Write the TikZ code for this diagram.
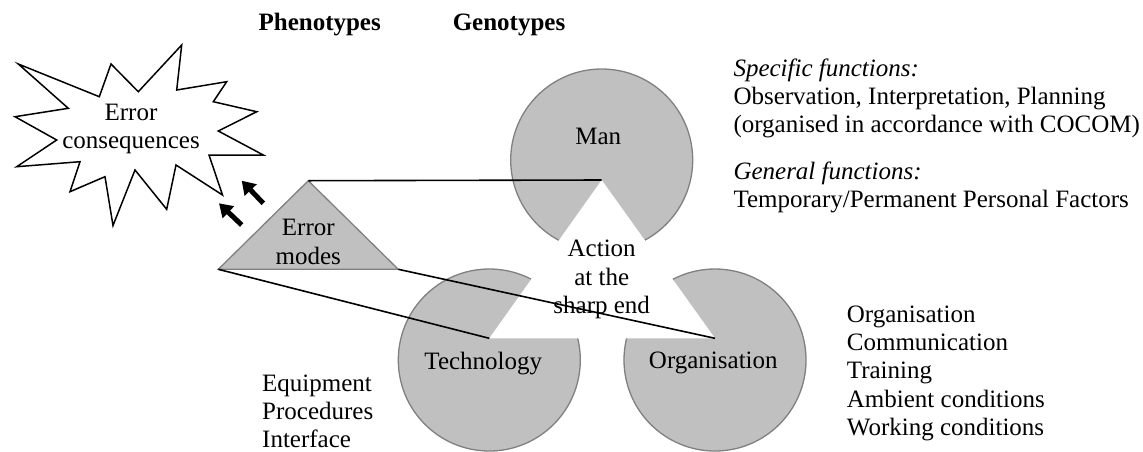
\documentclass[tikz,border=0pt]{standalone}
\usepackage{fontspec}
\setmainfont{Liberation Serif}
\usetikzlibrary{arrows.meta}
\definecolor{pie}{HTML}{C0C0C0}
\definecolor{pieline}{HTML}{808080}
\begin{document}
\begin{tikzpicture}[x=1pt,y=-1pt,
 lbl/.style={font=\fontsize{25}{28.3}\selectfont, inner sep=0pt, align=center},
 side/.style={font=\fontsize{25}{28.3}\selectfont, inner sep=0pt, align=left, anchor=west},
 disc/.style={circle, fill=pie, draw=pieline, line width=1.3pt, minimum size=182pt, inner sep=0pt},
 link/.style={draw=black, line width=1.6pt},
 blockarrow/.style={draw=black, line width=5pt, -{Triangle[length=13pt,width=16pt]}},
]
\useasboundingbox (0,0) rectangle (1143,451);
% genotype discs
\node[disc] (man) at (601.7,160) {};
\node[disc] (tech) at (489.3,360) {};
\node[disc] (org) at (715,360) {};
\coordinate (mA) at (601.7,180);
\coordinate (tA) at (489.3,338.3);
\coordinate (oA) at (715,338.3);
\fill[white] (mA) -- (tA) -- (oA) -- cycle;
% labels in discs
\node[lbl] (manl) at (598.3,136.7) {Man};
\node[lbl] (techl) at (483.3,363.3) {Technology};
\node[lbl] (orgl) at (713.3,363.3) {Organisation};
\node[lbl] (act) at (601.7,279.5) {Action\\at the\\sharp end};
% error modes triangle
\coordinate (eA) at (308.3,180.7);
\coordinate (eL) at (218.3,269.3);
\coordinate (eR) at (398.3,269.3);
\draw[fill=pie, draw=pieline, line width=1.3pt] (eA) -- (eL) -- (eR) -- cycle;
\node[lbl] (em) at (308.3,242) {Error\\modes};
% connecting lines
\draw[link] (eA) -- (mA);
\draw[link] (eR) -- (oA);
\draw[link] (eL) -- (tA);
% starburst
\draw[fill=white, draw=black, line width=1.5pt, line join=miter]
 (18.3,64) -- (99.3,96.7) -- (111,64) -- (138.3,91.7) -- (181.7,45) -- (176.7,90)
 -- (226.7,81.7) -- (213.3,101.7) -- (256.7,111.7) -- (218.3,131) -- (263.3,155)
 -- (209,155) -- (222.5,195) -- (176,165) -- (166.7,209.3) -- (135,170)
 -- (113,225.5) -- (105,176.7) -- (70,191.7) -- (80,161.7) -- (16.7,166.7)
 -- (56.7,140) -- (15,116.7) -- (68.3,108.3) -- cycle;
\node[lbl] (cons) at (131,129) {Error\\consequences};
% arrows
\coordinate (a1s) at (263.3,203.3);
\coordinate (a1e) at (241.7,180.7);
\coordinate (a2s) at (241.7,225);
\coordinate (a2e) at (219,203.3);
\draw[blockarrow] (a1s) -- (a1e);
\draw[blockarrow] (a2s) -- (a2e);
% headings
\node[lbl, font=\fontsize{25}{28.3}\selectfont\bfseries] (phen) at (319.7,25) {Phenotypes};
\node[lbl, font=\fontsize{25}{28.3}\selectfont\bfseries] (gen) at (509,25) {Genotypes};
% side texts
\node[side] (spec) at (733.3,98.4) {\textit{Specific functions:}\\Observation, Interpretation, Planning\\(organised in accordance with COCOM)};
\node[side] (genf) at (733.3,187.5) {\textit{General functions:}\\Temporary/Permanent Personal Factors};
\node[side] (orgf) at (846.7,373.3) {Organisation\\Communication\\Training\\Ambient conditions\\Working conditions};
\node[side] (techf) at (262,411.5) {Equipment\\Procedures\\Interface};
\end{tikzpicture}
\end{document}
